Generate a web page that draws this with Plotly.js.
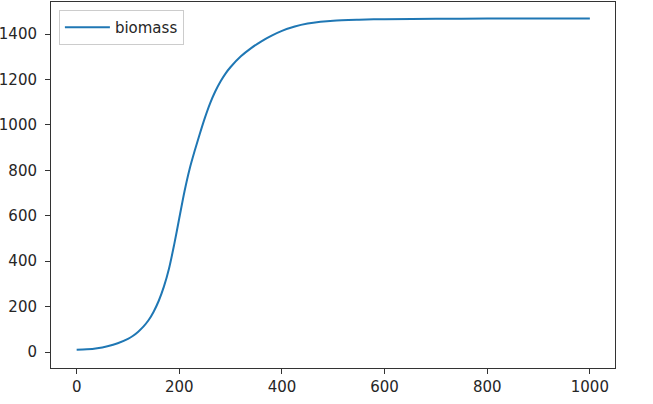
<!DOCTYPE html>
<html>
<head>
<meta charset="utf-8">
<script src="https://cdn.plot.ly/plotly-3.0.1.min.js"></script>
<style>html,body{margin:0;padding:0;background:#fff;}#chart{width:653px;height:404px;}</style>
</head>
<body>
<div id="chart"></div>
<script>
const seriesName = "biomass";
const timeSteps = [0,20,40,60,80,100,110,120,130,140,150,160,170,180,190,200,210,220,230,240,250,260,270,280,290,300,320,340,360,380,400,425,450,475,500,550,600,700,800,900,1000];
const biomass = [10,12,17,26,39,58,72,90,112,140,178,226,288,368,473,590,706,805,886,961,1032,1095,1147,1190,1226,1255,1302,1338,1368,1393,1414,1433,1446,1454,1459,1463,1465.5,1467,1468,1468,1468];
const xTicks = [0,200,400,600,800,1000];
const yTicks = [0,200,400,600,800,1000,1200,1400];

const axisCommon = {
  showgrid: false, zeroline: false, showline: true, mirror: true,
  linecolor: '#333', linewidth: 1, ticks: 'outside', ticklen: 5, tickwidth: 1,
  tickcolor: '#333', tickfont: {family: 'DejaVu Sans', size: 15, color: '#262626'}
};

Plotly.newPlot('chart', [{
  x: timeSteps, y: biomass, type: 'scatter', mode: 'lines', name: seriesName,
  line: {color: '#1f77b4', width: 2, shape: 'spline', smoothing: 0.8}
}], {
  width: 653, height: 404,
  margin: {l: 51, r: 38, t: 2, b: 36},
  paper_bgcolor: '#fff', plot_bgcolor: '#fff',
  showlegend: true,
  legend: {x: 0.014, y: 0.978, xanchor: 'left', yanchor: 'top', bordercolor: '#cccccc', borderwidth: 1,
           itemwidth: 45,
           bgcolor: 'rgba(255,255,255,0.8)', font: {family: 'DejaVu Sans', size: 15, color: '#262626'}},
  xaxis: Object.assign({}, axisCommon, {range: [-50, 1049], tickvals: xTicks, ticktext: xTicks.map(String)}),
  yaxis: Object.assign({}, axisCommon, {range: [-70, 1541], tickvals: yTicks, ticktext: yTicks.map(String), ticklabelstandoff: 5})
}, {displayModeBar: false, staticPlot: true});
</script>
</body>
</html>
